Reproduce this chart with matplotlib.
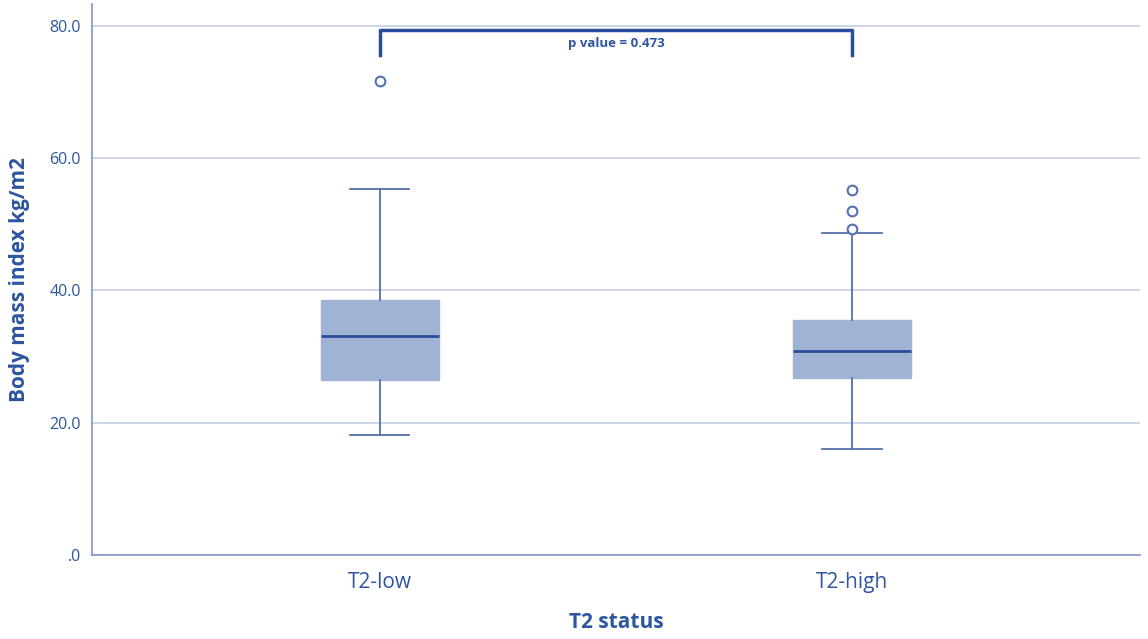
import matplotlib
matplotlib.use("Agg")
import matplotlib.pyplot as plt

groups = ["T2-low", "T2-high"]
q1 = [26.5, 26.8]
median = [33.1, 30.9]
q3 = [38.6, 35.6]
whislo = [18.2, 16.0]
whishi = [55.4, 48.7]
fliers = [[71.6], [55.2, 52.0, 49.3]]
p_text = "p value = 0.473"

txt = "#2D55A0"
fig = plt.figure(figsize=(11.48, 6.39), dpi=100)
ax = fig.add_axes([0.0801, 0.1315, 0.9129, 0.8622])

stats = []
for i in range(len(groups)):
    stats.append(dict(label=groups[i], q1=q1[i], med=median[i], q3=q3[i],
                      whislo=whislo[i], whishi=whishi[i], fliers=fliers[i]))

ax.bxp(stats, positions=[1, 2], widths=0.25, patch_artist=True, showfliers=True,
       boxprops=dict(facecolor="#A0B3D4", edgecolor="#A0B3D4", linewidth=1),
       medianprops=dict(color="#2A4E9C", linewidth=2),
       whiskerprops=dict(color="#5470B0", linewidth=1.3),
       capprops=dict(color="#5470B0", linewidth=1.3),
       capwidths=0.125,
       flierprops=dict(marker="o", markersize=7, markerfacecolor="white",
                       markeredgecolor="#5470B0", markeredgewidth=1.5))

ax.set_xlim(0.39, 2.61)
ax.set_ylim(0, 83.3)
ax.set_yticks([0, 20, 40, 60, 80])
ax.set_yticklabels([".0", "20.0", "40.0", "60.0", "80.0"])
ax.yaxis.grid(True, color="#C8D3E6", linewidth=1.3)
ax.set_axisbelow(True)
for s in ["top", "right"]:
    ax.spines[s].set_visible(False)
for s in ["left", "bottom"]:
    ax.spines[s].set_color("#7F95C6")
    ax.spines[s].set_linewidth(1.2)
ax.tick_params(length=0, colors=txt)
ax.tick_params(axis="y", labelsize=11.5, pad=8)
ax.tick_params(axis="x", labelsize=15, pad=12)
for lab in ax.get_yticklabels() + ax.get_xticklabels():
    lab.set_family("Open Sans")
    lab.set_color(txt)

ax.set_ylabel("Body mass index kg/m2", fontsize=15, fontweight="bold", color=txt,
              family="Open Sans", labelpad=14)
ax.set_xlabel("T2 status", fontsize=15, fontweight="bold", color=txt,
              family="Open Sans", labelpad=14)

ax.plot([1, 1, 2, 2], [75.6, 79.4, 79.4, 75.6], color="#2A4E9C", linewidth=2.5)
ax.text(1.5, 77.3, p_text, ha="center", va="center", fontsize=9.5, fontweight="bold",
        color=txt, family="Open Sans")

fig.savefig("out.png", dpi=100)
